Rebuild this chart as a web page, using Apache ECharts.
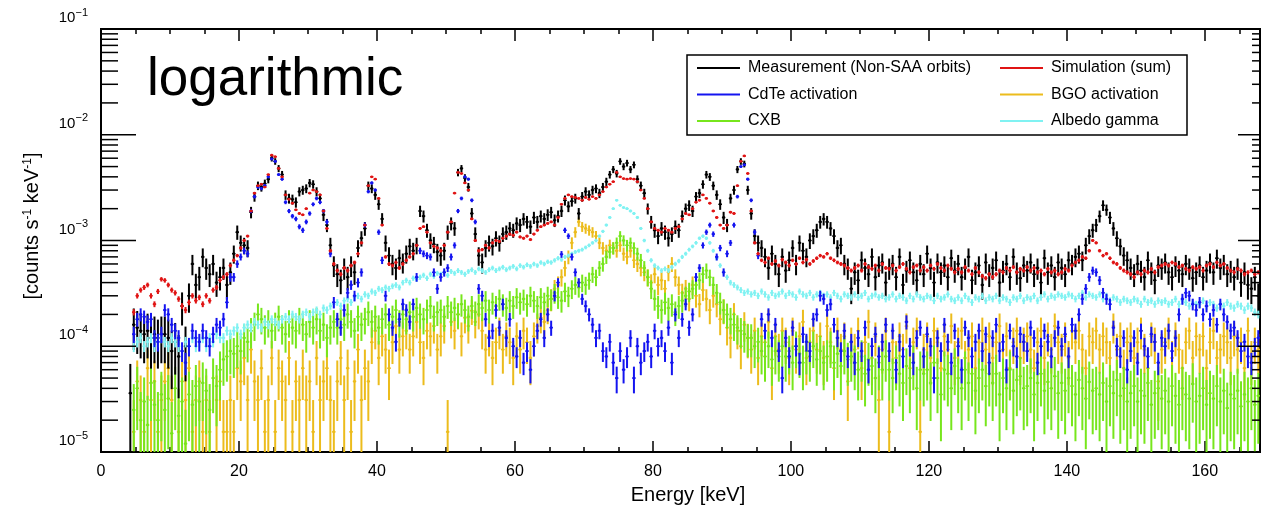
<!DOCTYPE html>
<html><head><meta charset="utf-8">
<script src="https://cdn.jsdelivr.net/npm/echarts@6/dist/echarts.min.js"></script>
<style>html,body{margin:0;padding:0;background:#fff}#c{width:1264px;height:509px}</style>
</head><body><div id="c"></div><script>
// ---- axis setup ----
const BIN_START = 4.0;      // keV, lower edge of first bin
const BIN_WIDTH = 0.5;      // keV
const UNIT = 1e-5;          // values below are in units of 1e-5 counts s^-1 keV^-1
const X_MIN = 0, X_MAX = 168, X_INTERVAL = 20;
const Y_MIN = 1e-5, Y_MAX = 1e-1;
const xTickLabels = ['0','20','40','60','80','100','120','140','160'];
const yTickExponents = ['−5','−4','−3','−2','−1'];

// ---- data (one row = 10 bins = 5 keV), units of 1e-5 ----
const measurement = [
[3.6,16,15,14,13,14,12,13,12,13],
[13,12,9,11,8,24,10,30,60,38],
[45,70,55,48,60,40,45,55,38,50],
[75,120,95,90,85,185,260,330,320,345],
[380,600,560,480,420,270,250,245,230,290],
[300,310,350,340,290,250,175,140,90,58],
[48,42,55,45,58,50,85,105,130,330],
[310,270,220,160,95,72,60,55,68,62],
[75,88,80,90,190,170,125,100,92,78],
[72,80,120,145,130,440,480,390,320,180],
[115,72,62,85,95,88,105,95,115,120],
[130,125,145,140,160,150,135,165,150,170],
[160,175,185,155,170,190,240,210,235,250],
[180,260,290,270,300,310,280,320,360,420],
[470,430,560,500,540,470,520,380,330,280],
[200,150,125,110,130,120,105,115,135,125],
[170,200,215,190,260,280,340,420,400,330],
[270,220,165,140,250,300,470,560,530,300],
[180,110,95,85,70,55,75,60,48,70],
[52,65,85,60,95,80,70,100,110,125],
[150,160,150,130,110,85,90,60,55,35],
[50,42,65,55,48,70,45,58,62,40],
[55,60,45,70,38,52,65,50,42,60],
[48,75,55,40,62,50,58,45,68,52],
[60,45,55,70,42,50,58,38,62,48],
[55,65,40,52,60,45,70,50,44,58],
[52,62,48,55,40,68,50,58,45,62],
[55,48,65,60,70,75,65,90,110,125],
[140,170,215,195,165,130,105,88,72,65],
[55,48,60,52,45,65,50,42,58,55],
[62,50,45,58,52,48,60,55,44,50],
[58,45,52,62,50,68,55,60,48,52],
[45,55,40,50,38,35,45,30]];

const simulationSum = [
[null,21,30,34,36,38,30,25,33,43],
[42,38,34,32,28,24,22,26,30,27],
[29,25,30,27,34,36,42,45,48,58],
[65,72,85,100,110,190,280,330,340,320],
[420,640,620,480,400,270,245,225,195,180],
[175,200,280,300,290,270,190,130,80,60],
[52,48,55,52,58,62,75,95,140,330],
[400,380,250,140,70,60,58,62,55,60],
[65,70,75,90,130,135,120,95,88,85],
[80,90,120,150,280,440,430,350,300,160],
[100,80,82,90,85,95,100,98,105,110],
[115,112,120,108,105,110,102,115,125,135],
[140,145,150,140,165,220,250,270,260,255],
[250,240,255,245,260,250,270,290,320,340],
[360,440,400,385,380,385,380,360,300,250],
[200,150,130,125,120,130,125,120,130,135],
[160,180,175,200,230,240,270,250,225,190],
[165,140,130,140,185,180,330,560,630,430],
[190,95,75,65,62,68,60,64,58,66],
[62,58,65,60,68,62,66,60,64,68],
[72,70,75,68,65,62,60,58,55,52],
[55,58,52,60,56,54,58,52,60,55],
[54,58,52,56,60,54,50,56,58,52],
[56,52,58,54,60,55,52,58,54,50],
[54,50,56,52,48,55,50,46,44,48],
[45,48,52,50,55,52,56,50,54,52],
[56,52,55,50,52,48,54,50,52,48],
[50,54,52,58,62,65,70,68,80,100],
[95,80,72,75,68,62,60,55,52,50],
[48,45,50,48,52,50,54,50,56,58],
[60,58,62,60,56,58,54,52,56,54],
[56,52,58,60,56,62,58,60,55,52],
[50,54,52,48,50,52,48,50]];

const cdteActivation = [
[null,13,18,20,19,17,18,12,11,13],
[22,20,16,14,12,9,7,10,14,12],
[11,14,12,10,13,16,15,18,26,45],
[45,60,70,80,75,190,260,320,310,330],
[400,590,560,420,380,230,190,170,160,135],
[125,150,180,220,250,230,190,150,75,26],
[18,15,22,32,38,30,40,50,140,290],
[350,300,120,65,30,20,15,11,18,25],
[22,17,25,45,80,75,72,70,50,35],
[45,50,55,70,90,190,250,400,380,240],
[150,35,30,18,12,14,22,15,25,12],
[18,10,8,12,7,9,6,10,14,18],
[12,20,15,30,40,74,125,110,70,50],
[40,28,24,20,16,12,14,9,8,11],
[7,5,9,6,8,12,5,10,7,9],
[11,8,14,10,12,9,15,7,20,12],
[18,25,15,20,45,55,90,120,140,115],
[70,85,50,75,95,140,260,500,520,380],
[240,120,72,18,14,20,12,16,9,5],
[12,8,15,10,7,13,11,9,18,20],
[30,28,22,25,16,12,9,14,8,11],
[7,12,9,15,6,10,13,8,11,16],
[9,14,6,11,8,17,10,7,12,15],
[8,13,10,5,12,9,16,11,7,14],
[10,6,15,12,8,11,14,9,13,7],
[12,16,9,11,6,14,10,8,13,11],
[9,15,12,7,10,14,11,8,12,15],
[10,13,8,16,14,20,28,35,45,52],
[50,42,32,28,25,15,10,8,12,6],
[9,12,7,14,10,8,13,11,7,12],
[10,14,9,12,20,28,32,30,25,22],
[26,20,24,18,22,16,25,20,17,14],
[15,12,9,11,8,7,10,12]];

const bgoActivation = [
[null,1.55,4.65,3.1,1.55,6.2,3.1,4.65,1.55,3.1],
[4.65,6.2,3.1,null,1.55,4.65,3.1,6.2,1.55,3.1],
[4.65,1.55,3.1,1.55,null,3.1,4.65,1.55,1.55,3.1],
[1.55,6.2,4.65,7.75,3.1,9.3,4.65,3.1,6.2,1.55],
[3.1,7.75,1.55,6.2,4.65,3.1,7.75,1.55,4.65,3.1],
[6.2,3.1,4.65,1.55,7.75,3.1,4.65,6.2,3.1,1.55],
[4.65,7.75,3.1,6.2,1.55,4.65,9.3,3.1,6.2,4.65],
[10.9,14,7.75,12.4,9.3,6.2,10.9,15.5,9.3,12.4],
[14,9.3,12.4,17,10.9,7.75,14,12.4,15.5,9.3],
[12.4,15.5,1.55,17,14,20,12.4,18.6,15.5,21.7],
[17,20,14,9.3,12.4,7.75,10.9,14,9.3,12.4],
[10.9,7.75,12.4,9.3,14,10.9,7.75,12.4,15.5,18.6],
[17,22,28,35,38,45,55,70,95,120],
[150,135,130,125,120,110,95,85,80,90],
[85,80,90,75,70,80,65,60,55,50],
[45,40,48,38,42,35,50,60,45,38],
[32,35,28,38,30,25,34,28,22,30],
[25,18,22,15,12,20,14,10,16,12],
[9.3,14,7.75,12.4,10.9,17,6.2,12.4,9.3,14],
[10.9,7.75,14,9.3,12.4,17,7.75,10.9,14,9.3],
[12.4,7.75,15.5,10.9,6.2,14,9.3,12.4,4.65,10.9],
[9.3,14,6.2,10.9,17,7.75,12.4,3.1,9.3,14],
[1.55,10.9,7.75,12.4,9.3,15.5,6.2,10.9,14,1.55],
[9.3,12.4,7.75,14,10.9,6.2,12.4,9.3,15.5,7.75],
[10.9,14,7.75,9.3,12.4,6.2,10.9,14,9.3,12.4],
[7.75,10.9,15.5,9.3,12.4,6.2,10.9,14,7.75,10.9],
[12.4,9.3,6.2,10.9,14,7.75,12.4,9.3,15.5,10.9],
[9.3,12.4,7.75,14,10.9,14,9.3,6.2,12.4,10.9],
[14,9.3,12.4,10.9,7.75,15.5,9.3,12.4,6.2,10.9],
[12.4,7.75,10.9,14,9.3,6.2,12.4,10.9,4.65,9.3],
[10.9,14,7.75,12.4,9.3,6.2,10.9,14,7.75,12.4],
[9.3,12.4,6.2,10.9,14,7.75,9.3,12.4,10.9,7.75],
[12.4,9.3,10.9,6.2,14,7.75,10.9,9.3]];

const cxb = [
[null,2.5,4,2,3,1.8,4.5,2.8,2,3.5],
[2.5,3.2,1.5,4,2.2,3,1.2,3.5,2.8,4.2],
[3,4.5,3.8,2.5,5,4.2,6,7.5,8,9],
[8.5,10,9,12,11,14,16,20,18,15],
[17,14,16,19,15,13,17,15,14,18],
[16,13,17,15,18,14,16,12,15,17],
[15,18,16,20,17,14,19,16,18,21],
[17,19,15,18,20,16,19,22,17,20],
[18,21,19,23,20,18,22,24,19,21],
[22,19,24,21,23,20,25,22,19,24],
[21,25,23,27,22,26,24,28,25,23],
[27,24,29,26,28,25,30,27,24,29],
[26,30,28,32,29,27,33,30,35,38],
[36,40,38,42,48,45,55,60,70,78],
[85,95,110,100,90,95,85,75,65,55],
[45,35,28,24,22,26,23,25,21,24],
[27,30,33,35,38,42,48,52,45,38],
[32,26,22,20,18,16,15,14,13,12],
[12,10,11,9,8,10,7.5,9,8,10],
[8,9,7,10,8.5,7,9,8,10,7.5],
[9,7,8,10,7,8.5,6.5,9,7.5,8],
[7,6,8,5.5,7.5,6.5,5,7,6,8],
[6,5,7,5.5,4.5,6.5,5,7,4,6],
[5.5,6,4.5,7,5,3.5,6,5.5,4,6.5],
[5,4,6,4.5,5.5,3.8,5,6,4.2,5.5],
[4.5,5.5,3.5,5,4,6,3.8,4.8,5.2,4],
[4.2,5,3.5,4.5,5.5,3.8,4.6,4,5.2,3.6],
[4.5,3.8,5,4.2,3.5,4.8,4,3.2,4.6,3.8],
[4,3.5,4.5,3,4.2,3.6,4.8,3.4,4,3],
[3.6,4.2,3,3.8,3.4,4.5,2.8,3.6,4,3.2],
[3.8,3,4.2,3.4,2.8,4,3.5,3.2,4.4,3],
[3.4,4,2.8,3.6,3.2,4.2,3,3.8,2.6,3.5],
[3.2,3.8,2.7,3.5,3,4,2.8,3.4]];

const albedoGamma = [
[null,10,11,12,10,11,12,10,11,12],
[11,10,12,11,10,9,11,10,12,10],
[11,12,10,12,11,13,12,12,14,13],
[14,15,13,15,16,15,17,16,15,17],
[16,18,17,16,18,19,18,20,19,18],
[20,21,19,21,22,20,23,22,24,25],
[26,24,27,28,26,29,30,28,31,30],
[33,32,35,34,36,35,37,38,36,40],
[42,40,44,43,45,47,44,48,46,49],
[48,50,47,51,49,52,50,48,51,53],
[50,54,52,50,53,55,52,54,56,53],
[55,57,54,58,56,59,57,60,58,62],
[60,63,62,65,68,66,70,72,75,78],
[80,82,86,90,95,100,110,122,140,165],
[200,240,215,205,200,190,180,165,130,100],
[80,65,58,55,52,54,52,56,60,64],
[70,75,82,88,95,105,110,105,95,80],
[68,58,50,45,40,38,36,34,32,33],
[31,32,30,33,31,29,32,30,31,33],
[30,32,31,29,33,31,30,32,29,31],
[32,30,31,29,32,30,28,31,30,29],
[31,29,30,32,28,30,31,29,30,28],
[29,31,28,30,29,27,30,28,31,29],
[28,30,29,27,30,28,29,31,28,27],
[29,27,30,28,26,29,28,30,27,29],
[28,30,27,29,28,26,29,28,30,27],
[29,28,30,27,29,31,28,30,29,31],
[30,29,31,30,28,30,32,29,31,30],
[29,31,28,30,27,29,28,26,28,27],
[26,28,27,25,28,26,27,25,27,26],
[27,25,26,28,25,27,26,24,26,25],
[25,27,24,26,25,23,25,24,26,24],
[23,25,24,22,24,23,21,20]];

// Poisson-like error scale per series (value / K = variance)
const seriesDefs = [
  {name:'BGO activation',               values:bgoActivation,  color:'#ecbc1c', k:6.45e4},
  {name:'CXB',                          values:cxb,            color:'#77e61c', k:7e4},
  {name:'Measurement (Non-SAA orbits)', values:measurement,    color:'#000000', k:3.5e4},
  {name:'Albedo gamma',                 values:albedoGamma,    color:'#80f2f2', k:7e5},
  {name:'CdTe activation',              values:cdteActivation, color:'#1414f0', k:2.5e5},
  {name:'Simulation (sum)',             values:simulationSum,  color:'#e01414', k:1e6}
];

function flatten(groups, name){
  const out = [];
  groups.forEach((g, gi) => {
    if (gi < groups.length - 1 && g.length !== 10) throw new Error(name + ' row ' + gi + ' has ' + g.length);
    out.push(...g);
  });
  if (out.length !== 328) throw new Error(name + ' length ' + out.length);
  return out;
}
function toBars(def){
  const vals = flatten(def.values, def.name);
  const d = [];
  vals.forEach((u, i) => {
    if (u == null) return;
    const v = u * UNIT;
    const e = Math.sqrt(v / def.k);
    const x = BIN_START + BIN_WIDTH * (i + 0.5);
    d.push([x, v, Math.max(v - e, Y_MIN * 0.3), v + e]);
  });
  return d;
}
function renderBar(params, api){
  const x = api.value(0), y = api.value(1), lo = api.value(2), hi = api.value(3);
  const pT = api.coord([x, hi]), pB = api.coord([x, lo]);
  const pL = api.coord([x - BIN_WIDTH/2, y]), pR = api.coord([x + BIN_WIDTH/2, y]);
  const c = api.visual('color');
  return {type:'group', children:[
    {type:'line', shape:{x1:pT[0], y1:pT[1], x2:pB[0], y2:pB[1]}, style:{stroke:c, lineWidth:2}},
    {type:'line', shape:{x1:pL[0], y1:pL[1], x2:pR[0], y2:pR[1]}, style:{stroke:c, lineWidth:1.4}},
    {type:'circle', shape:{cx:pT[0], cy:pL[1], r:1.4}, style:{fill:c}}
  ]};
}

// y-axis ticks on both frame sides: decades (major) and 2..9 x 10^n (minor)
const yTicks = [];
for (let d = -5; d <= -1; d++) {
  yTicks.push([X_MIN, Math.pow(10, d), 1]);
  if (d < -1) for (let m = 2; m <= 9; m++) yTicks.push([X_MIN, m * Math.pow(10, d), 0]);
}
function renderYTick(params, api){
  const v = api.value(1), major = api.value(2) === 1;
  const pL = api.coord([X_MIN, v]), pR = api.coord([X_MAX, v]);
  const lenL = major ? 35 : 17, lenR = major ? 22 : 8;
  const st = {stroke:'#000', lineWidth:1.5};
  return {type:'group', children:[
    {type:'line', shape:{x1:pL[0], y1:pL[1], x2:pL[0] + lenL, y2:pL[1]}, style:st},
    {type:'line', shape:{x1:pR[0] - lenR, y1:pR[1], x2:pR[0], y2:pR[1]}, style:st}
  ]};
}

const FONT = '"Liberation Sans", Arial, Helvetica, sans-serif';
const series = seriesDefs.map(def => ({
  type:'custom', name:def.name, renderItem:renderBar, data:toBars(def),
  itemStyle:{color:def.color}, clip:true, silent:true,
  encode:{x:0, y:1}
}));
series.push({type:'custom', name:'yTicks', renderItem:renderYTick, data:yTicks, silent:true, clip:false, z:10, encode:{x:0,y:1}});

const tickStyle = {color:'#000', width:1.5};
const legendText = {fontSize:16, color:'#000', fontFamily:FONT, lineHeight:18, padding:[0,0,0,3]};
const colorOf = n => seriesDefs.find(s => s.name === n).color;
const legendItem = n => ({name:n, itemStyle:{color:colorOf(n)}});

const option = {
  animation:false,
  backgroundColor:'#fff',
  textStyle:{fontFamily:FONT},
  grid:{left:101, top:29, width:1159, height:423, show:true, borderColor:'#000', borderWidth:2, backgroundColor:'transparent'},
  xAxis:[
    {type:'value', position:'bottom', min:X_MIN, max:X_MAX, interval:X_INTERVAL,
     axisLine:{show:false}, splitLine:{show:false},
     axisTick:{inside:true, length:11, lineStyle:tickStyle},
     minorTick:{show:true, splitNumber:4, length:5, lineStyle:tickStyle},
     axisLabel:{margin:12, fontSize:16, color:'#000', fontFamily:FONT, showMaxLabel:false,
       formatter:v => { const i = Math.round(v / X_INTERVAL); return (Math.abs(v - i*X_INTERVAL) < 1e-6 && xTickLabels[i] !== undefined) ? xTickLabels[i] : ''; }}},
    {type:'value', position:'top', min:X_MIN, max:X_MAX, interval:X_INTERVAL,
     axisLine:{show:false}, splitLine:{show:false}, axisLabel:{show:false},
     axisTick:{inside:true, length:12, lineStyle:tickStyle},
     minorTick:{show:true, splitNumber:4, length:5, lineStyle:tickStyle}}
  ],
  yAxis:[
    {type:'log', logBase:10, position:'left', min:Y_MIN, max:Y_MAX,
     axisLine:{show:false}, splitLine:{show:false}, axisTick:{show:false},
     axisLabel:{margin:13, verticalAlign:'bottom', color:'#000',
       formatter:v => { const e = Math.round(Math.log10(v)); return '{b|10}{s|' + yTickExponents[e + 5] + '}'; },
       rich:{b:{fontSize:15, lineHeight:22, fontFamily:FONT, color:'#000'},
             s:{fontSize:11, lineHeight:10, verticalAlign:'top', fontFamily:FONT, color:'#000'}}}}
  ],
  legend:[
    {left:697, top:59, orient:'vertical', padding:0, itemGap:8.5, itemWidth:43, itemHeight:2, icon:'rect',
     textStyle:legendText, selectedMode:false,
     data:['Measurement (Non-SAA orbits)','CdTe activation','CXB'].map(legendItem)},
    {left:1000, top:59, orient:'vertical', padding:0, itemGap:8.5, itemWidth:43, itemHeight:2, icon:'rect',
     textStyle:legendText, selectedMode:false,
     data:['Simulation (sum)','BGO activation','Albedo gamma'].map(legendItem)}
  ],
  graphic:[
    {type:'rect', z:-1, shape:{x:687, y:55, width:500, height:80}, style:{fill:'#fff', stroke:'#000', lineWidth:1.5}},
    {type:'text', x:147, y:80, style:{text:'logarithmic', font:'53px ' + FONT, fill:'#000', align:'left', verticalAlign:'middle'}},
    {type:'text', x:688, y:495, style:{text:'Energy [keV]', font:'20px ' + FONT, fill:'#000', align:'center', verticalAlign:'middle'}},
    {type:'text', x:32, y:226, rotation:Math.PI/2,
     style:{text:'[counts s{s|-1} keV{s|-1}]', font:'20px ' + FONT, fill:'#000', align:'center', verticalAlign:'middle',
            rich:{s:{fontSize:12, lineHeight:12, verticalAlign:'top', fontFamily:FONT, fill:'#000'}}}}
  ],
  series:series
};
const chart = echarts.init(document.getElementById('c'), null, {renderer:'canvas'});
chart.setOption(option);
</script></body></html>
